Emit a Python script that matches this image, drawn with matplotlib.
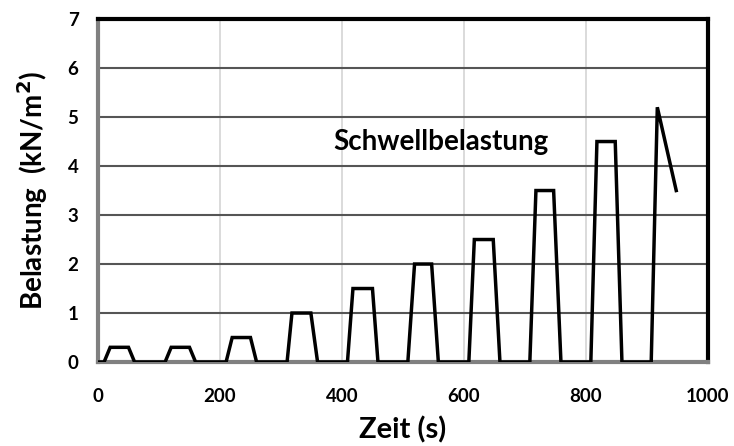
import matplotlib
matplotlib.use("Agg")
import matplotlib.pyplot as plt

# load history (time in s, load in kN/m2)
zeit = [0, 10, 20, 50, 60,
        110, 120, 150, 160,
        210, 220, 250, 260,
        310, 318, 349, 360,
        409, 418, 450, 459,
        508, 519, 547, 558,
        608, 617, 648, 659,
        708, 718, 747, 759,
        808, 818, 848, 859,
        907, 917, 948]
belastung = [0, 0, 0.3, 0.3, 0,
             0, 0.3, 0.3, 0,
             0, 0.5, 0.5, 0,
             0, 1.0, 1.0, 0,
             0, 1.5, 1.5, 0,
             0, 2.0, 2.0, 0,
             0, 2.5, 2.5, 0,
             0, 3.5, 3.5, 0,
             0, 4.5, 4.5, 0,
             0, 5.2, 3.5]

x_ticks = [0, 200, 400, 600, 800, 1000]
y_ticks = [0, 1, 2, 3, 4, 5, 6, 7]

plt.rcParams['font.family'] = ['Lato', 'DejaVu Sans']

fig = plt.figure(figsize=(7.34, 4.46), dpi=100)
ax = fig.add_axes([0.1335, 0.1883, 0.831, 0.769])

# grid: dark horizontal, light vertical
for y in y_ticks[1:-1]:
    ax.axhline(y, color='#555555', lw=1.5, zorder=1)
for x in x_ticks[1:-1]:
    ax.axvline(x, color='#d4d4d4', lw=1.2, zorder=0)

ax.plot(zeit, belastung, color='black', lw=2.5, zorder=3,
        solid_joinstyle='miter')

ax.set_xlim(0, 1000)
ax.set_ylim(0, 7)
ax.set_xticks(x_ticks)
ax.set_yticks(y_ticks)
ax.tick_params(length=0, labelsize=13.5)
ax.tick_params(axis='x', pad=19)
ax.tick_params(axis='y', pad=14)
for lab in ax.get_xticklabels() + ax.get_yticklabels():
    lab.set_fontweight('bold')

ax.spines['top'].set_color('black')
ax.spines['top'].set_linewidth(3)
ax.spines['right'].set_color('black')
ax.spines['right'].set_linewidth(3)
ax.spines['left'].set_color('#808080')
ax.spines['left'].set_linewidth(3)
ax.spines['bottom'].set_color('#808080')
ax.spines['bottom'].set_linewidth(3)

ax.set_xlabel('Zeit (s)', fontsize=21, fontweight='bold', labelpad=8)
ax.set_ylabel('Belastung  (kN/m$^\\mathbf{2}$)', fontsize=20,
              fontweight='bold', labelpad=13)

ax.text(562, 4.5, 'Schwellbelastung', fontsize=20, fontweight='bold',
        ha='center', va='center')

fig.savefig('out.png', dpi=100)
